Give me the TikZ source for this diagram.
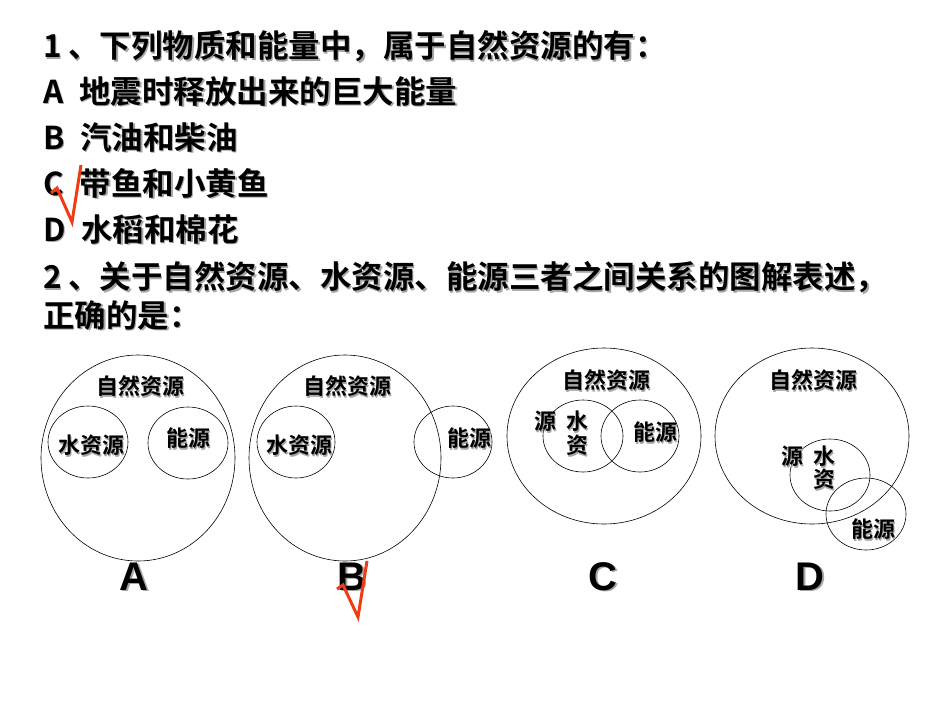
\documentclass[tikz,border=0pt]{standalone}
\usepackage{fontspec}
\setmainfont{Liberation Sans}[BoldFont={Liberation Sans Bold}]
\newfontfamily\cjk{Noto Sans CJK SC Bold}
\definecolor{tickred}{RGB}{240,60,20}
\newcommand{\shd}[1]{\makebox[0pt][l]{\hspace{1.5pt}\raisebox{-1.5pt}{\color{black!35}#1}}#1}
\begin{document}
\begin{tikzpicture}[x=1pt,y=-1pt,
  line/.style={anchor=west,font=\cjk\fontsize{31.5}{33}\selectfont,inner sep=0pt},
  lab/.style={font=\cjk\fontsize{22}{24}\selectfont,inner sep=0pt},
  big/.style={font=\bfseries\fontsize{40}{42}\selectfont,inner sep=0pt},
  ring/.style={draw=black,line width=0.6pt},
  tick/.style={draw=tickred,line width=3pt,line join=miter}]
\useasboundingbox (0,0) rectangle (950,713);
\node[line] (l1) at (43,47) {\shd{1\hspace{0.2em}、下列物质和能量中，属于自然资源的有：}};
\node[line] (l2) at (43,92) {\shd{A\hspace{0.5em}地震时释放出来的巨大能量}};
\node[line] (l3) at (43,138) {\shd{B\hspace{0.5em}汽油和柴油}};
\node[line] (l4) at (43,184) {\shd{C\hspace{0.5em}带鱼和小黄鱼}};
\node[line] (l5) at (43,230) {\shd{D\hspace{0.5em}水稻和棉花}};
\node[line] (l6) at (43,278) {\shd{2\hspace{0.2em}、关于自然资源、水资源、能源三者之间关系的图解表述，}};
\node[line] (l7) at (43,316) {\shd{正确的是：}};
% A
\draw[ring] (138,458) ellipse [x radius=97,y radius=103];
\draw[ring] (88,442) ellipse [x radius=40,y radius=36];
\draw[ring] (188,443) ellipse [x radius=40,y radius=36];
\node[lab] (a1) at (140,387) {\shd{自然资源}};
\node[lab] (a2) at (91,446) {\shd{水资源}};
\node[lab] (a3) at (188,439) {\shd{能源}};
% B
\draw[ring] (345,458) ellipse [x radius=96,y radius=103];
\draw[ring] (296,442) ellipse [x radius=39,y radius=36];
\draw[ring] (453,442) ellipse [x radius=39,y radius=36];
\node[lab] (b1) at (347,387) {\shd{自然资源}};
\node[lab] (b2) at (299,446) {\shd{水资源}};
\node[lab] (b3) at (469,439) {\shd{能源}};
% C
\draw[ring] (604,436) ellipse [x radius=97,y radius=88];
\draw[ring] (583,436) ellipse [x radius=40,y radius=36];
\draw[ring] (640,436) ellipse [x radius=39,y radius=36];
\node[lab] (c1) at (606,381) {\shd{自然资源}};
\node[lab] (c2) at (545,422) {\shd{源}};
\node[lab] (c3) at (577,422) {\shd{水}};
\node[lab] (c4) at (577,446) {\shd{资}};
\node[lab] (c5) at (655,433) {\shd{能源}};
% D
\draw[ring] (812,436) ellipse [x radius=97,y radius=88];
\draw[ring] (830,475) ellipse [x radius=40,y radius=36];
\draw[ring] (866,514) ellipse [x radius=40,y radius=36];
\node[lab] (d1) at (813,381) {\shd{自然资源}};
\node[lab] (d2) at (792,457) {\shd{源}};
\node[lab] (d3) at (824,457) {\shd{水}};
\node[lab] (d4) at (824,480) {\shd{资}};
\node[lab] (d5) at (873,530) {\shd{能源}};
% letters
\node[big] (LA) at (134,577) {\shd{A}};
\node[big] (LB) at (352,577) {\shd{B}};
\node[big] (LC) at (603,577) {\shd{C}};
\node[big] (LD) at (810,577) {\shd{D}};
% ticks
\draw[tick] (51,193) -- (57,188) -- (72,222) -- (81,165);
\draw[tick] (337,589) -- (343,585) -- (358,617) -- (367,561);
\end{tikzpicture}
\end{document}
